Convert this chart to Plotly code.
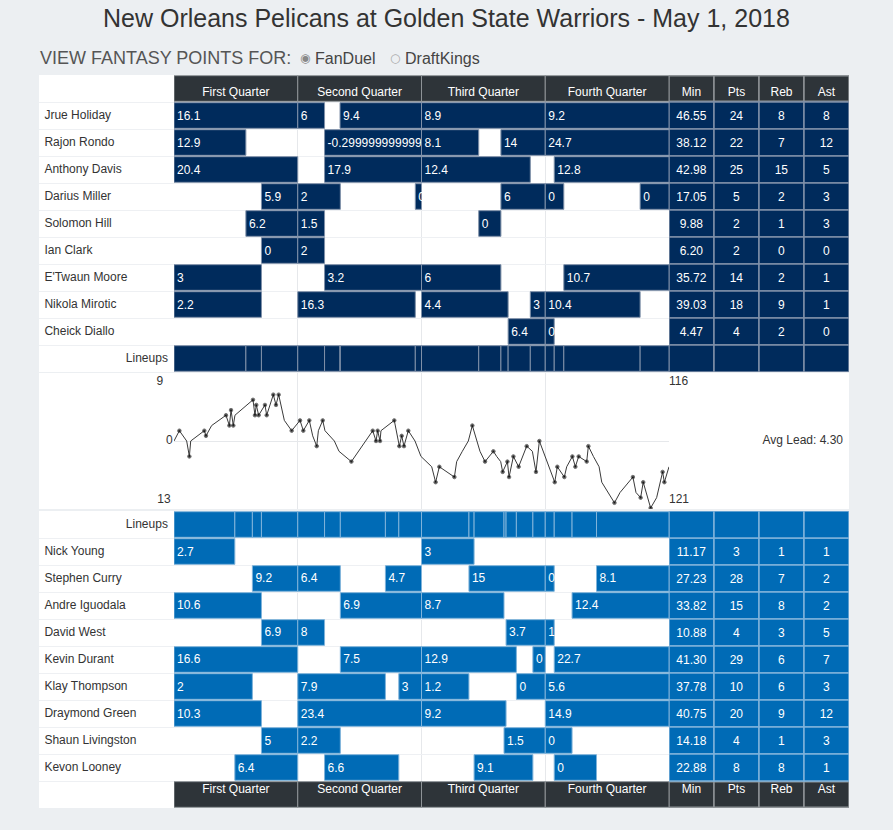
import plotly.graph_objects as go

W, H = 893, 830
FONT = "Liberation Sans, Arial, Helvetica, sans-serif"

# ---------------- data ----------------
title_text = "New Orleans Pelicans at Golden State Warriors - May 1, 2018"
quarter_names = ["First Quarter", "Second Quarter", "Third Quarter", "Fourth Quarter"]
stat_names = ["Min", "Pts", "Reb", "Ast"]
quarter_minutes = 12

nop_players = ["Jrue Holiday", "Rajon Rondo", "Anthony Davis", "Darius Miller", "Solomon Hill",
               "Ian Clark", "E'Twaun Moore", "Nikola Mirotic", "Cheick Diallo"]
nop_min = [46.55, 38.12, 42.98, 17.05, 9.88, 6.20, 35.72, 39.03, 4.47]
nop_pts = [24, 22, 25, 5, 2, 2, 14, 18, 4]
nop_reb = [8, 7, 15, 2, 1, 0, 2, 9, 2]
nop_ast = [8, 12, 5, 3, 3, 0, 1, 1, 0]

nop_stint_player = [0, 0, 0, 0, 0, 1, 1, 1, 1, 1, 2, 2, 2, 2, 3, 3, 3, 3, 3, 3,
                    4, 4, 4, 5, 5, 6, 6, 6, 6, 7, 7, 7, 7, 7, 8, 8]
nop_stint_start = [0, 12, 16.1, 24, 36, 0, 14.6, 24, 31.7, 36, 0, 14.6, 24, 36.87,
                   8.48, 12, 23.4, 31.7, 36, 45.2, 6.97, 12, 29.55, 8.48, 12,
                   0, 14.6, 24, 37.8, 0, 12, 24, 34.55, 36, 32.4, 36]
nop_stint_end = [12, 14.6, 24, 36, 48, 6.97, 24, 29.55, 36, 48, 12, 24, 34.55, 48,
                 12, 16.13, 24, 36, 37.8, 48, 12, 14.6, 31.7, 12, 14.6,
                 8.48, 24, 31.7, 48, 8.48, 23.4, 32.4, 36, 45.2, 36, 36.87]
nop_stint_fp = [16.1, 6, 9.4, 8.9, 9.2, 12.9, -0.29999999999999716, 8.1, 14, 24.7,
                20.4, 17.9, 12.4, 12.8, 5.9, 2, 0, 6, 0, 0, 6.2, 1.5, 0, 0, 2,
                3, 3.2, 6, 10.7, 2.2, 16.3, 4.4, 3, 10.4, 6.4, 0]

gsw_players = ["Nick Young", "Stephen Curry", "Andre Iguodala", "David West", "Kevin Durant",
               "Klay Thompson", "Draymond Green", "Shaun Livingston", "Kevon Looney"]
gsw_min = [11.17, 27.23, 33.82, 10.88, 41.30, 37.78, 40.75, 14.18, 22.88]
gsw_pts = [3, 28, 15, 4, 29, 10, 20, 4, 8]
gsw_reb = [1, 7, 8, 3, 6, 6, 9, 1, 8]
gsw_ast = [1, 2, 2, 5, 7, 3, 12, 3, 1]

gsw_stint_player = [0, 0, 1, 1, 1, 1, 1, 1, 2, 2, 2, 2, 3, 3, 3, 3, 4, 4, 4, 4, 4,
                    5, 5, 5, 5, 5, 5, 6, 6, 6, 6, 7, 7, 7, 7, 8, 8, 8, 8]
gsw_stint_start = [0, 24, 7.6, 12, 20.5, 28.6, 36, 40.97, 0, 16.13, 24, 38.6,
                   8.48, 12, 32.2, 36, 0, 16.13, 24, 34.8, 36.87,
                   0, 12, 21.8, 24, 33.2, 36, 0, 12, 24, 36, 8.48, 12, 32.0, 36,
                   5.9, 14.6, 29.1, 36.87]
gsw_stint_end = [5.9, 29.1, 12, 16.13, 24, 36, 36.87, 48, 8.48, 24, 32.0, 48,
                 12, 14.6, 36, 36.87, 12, 24, 33.2, 36, 48,
                 7.6, 20.5, 24, 28.6, 36, 48, 8.48, 24, 32.2, 48, 12, 16.13, 36, 38.6,
                 12, 21.8, 34.8, 40.97]
gsw_stint_fp = [2.7, 3, 9.2, 6.4, 4.7, 15, 0, 8.1, 10.6, 6.9, 8.7, 12.4,
                6.9, 8, 3.7, 1, 16.6, 7.5, 12.9, 0, 22.7,
                2, 7.9, 3, 1.2, 0, 5.6, 10.3, 23.4, 9.2, 14.9, 5, 2.2, 1.5, 0,
                6.4, 6.6, 9.1, 0]

lead_minute = [0, 0.52, 1.23, 1.49, 1.62, 2.94, 3.10, 3.65, 5.04, 5.37, 5.53, 5.75, 5.91,
               7.66, 7.85, 7.98, 8.21, 8.82, 8.99, 9.63, 9.89, 10.15, 10.70, 11.41,
               12.22, 12.54, 13.12, 13.45, 13.84, 14.00, 14.42, 14.64, 15.55, 16.0, 17.2,
               19.27, 19.59, 19.75, 19.98, 20.07, 21.36, 21.85, 22.08, 22.3, 22.72, 23.37,
               23.95, 24.99, 25.37, 25.73, 27.19, 27.41, 27.96, 28.54, 28.93, 29.35, 29.67,
               30.16, 30.97, 31.29, 31.68, 31.87, 32.33, 32.49, 32.91, 33.42, 34.2, 34.75,
               35.10, 35.43, 36.92, 37.17, 37.85, 38.08, 38.63, 38.92, 39.24, 40.02, 40.18,
               40.67, 41.22, 41.48, 42.71, 43.25, 44.5, 44.8, 45.25, 45.5, 46.22, 46.8,
               47.38, 47.55, 48]
lead_value = [0, 2, 0, -3, 0, 2, 1, 3, 5, 3, 6, 3, 5,
              8, 5, 7, 5, 7, 5, 9, 7, 9, 4, 2,
              4, 2, 4, 1, -1, 2, 4, 2, 0, -2, -4,
              2, 0, 2, 0, 2, 4, -1, 1, -1, 2, 0,
              -3, -5, -8, -5, -7, -4, -2, 0, 3, 0, -2,
              -4, -2, -3, -4, -6, -4, -7, -3, -5, -1, -2,
              -6, 0, -8, -5, -7, -5, -3, -5, -3, -4, -1,
              -3, -5, -8, -12, -10, -7, -10, -11, -8, -13, -11,
              -6, -8, -5]
lead_marked = [0, 1, 0, 1, 0, 1, 1, 0, 1, 1, 1, 1, 0,
               1, 1, 1, 1, 1, 1, 1, 1, 1, 0, 1,
               1, 1, 1, 0, 1, 0, 1, 0, 0, 0, 1,
               1, 1, 1, 1, 0, 1, 1, 1, 1, 1, 0,
               0, 0, 1, 1, 1, 0, 0, 0, 1, 0, 0,
               1, 1, 0, 0, 1, 1, 1, 1, 1, 1, 0,
               1, 1, 1, 1, 1, 0, 1, 1, 1, 1, 1,
               0, 0, 0, 1, 0, 1, 0, 1, 1, 1, 0,
               1, 1, 0]

nop_final_score = 116
gsw_final_score = 121
nop_max_lead = 9
gsw_max_lead = 13
avg_lead = 4.30

# ---------------- styling ----------------
PAGE_BG = "#eceff2"
HEADER = "#2e3439"
HEADER_EDGE = "#8e9397"
NOP_FILL, NOP_EDGE = "#002b5c", "#7f90a8"
GSW_FILL, GSW_EDGE = "#006bb6", "#7fb3da"
GRID = "#eef0f3"


def xd(a, b):
    return [a / W, b / W]


def yd(top, bottom):
    return [1 - bottom / H, 1 - top / H]


def fmt(v):
    return str(v)


fig = go.Figure()


def add_team(players, sp, ss, se, sf, mins, pts, reb, ast, fill, edge,
             xq, xs, xn, ya, row0, lineup_row, header_row, shift):
    rows = [row0 + i for i in range(len(players))]
    qb = [i * quarter_minutes for i in range(len(quarter_names))]
    # header cells
    fig.add_trace(go.Bar(orientation="h", base=qb, x=[quarter_minutes] * len(qb),
                         y=[header_row] * len(qb), width=0.95,
                         marker=dict(color=HEADER, line=dict(color=HEADER_EDGE, width=1)),
                         xaxis=xq, yaxis=ya, hoverinfo="skip"))
    fig.add_trace(go.Scatter(mode="text", x=[b + quarter_minutes / 2 for b in qb],
                             y=[header_row + shift] * len(qb), text=quarter_names,
                             textfont=dict(color="white", size=12, family=FONT),
                             xaxis=xq, yaxis=ya, hoverinfo="skip"))
    sb = list(range(len(stat_names)))
    fig.add_trace(go.Bar(orientation="h", base=sb, x=[1] * len(sb), y=[header_row] * len(sb),
                         width=0.95,
                         marker=dict(color=HEADER, line=dict(color=HEADER_EDGE, width=1.5)),
                         xaxis=xs, yaxis=ya, hoverinfo="skip"))
    fig.add_trace(go.Scatter(mode="text", x=[b + 0.5 for b in sb],
                             y=[header_row + shift] * len(sb), text=stat_names,
                             textfont=dict(color="white", size=12, family=FONT),
                             xaxis=xs, yaxis=ya, hoverinfo="skip"))
    # stints
    fig.add_trace(go.Bar(orientation="h", base=ss, x=[e - s for s, e in zip(ss, se)],
                         y=[rows[p] for p in sp], width=0.95,
                         text=[fmt(v) for v in sf], textposition="inside",
                         insidetextanchor="start", constraintext="none",
                         textfont=dict(color="white", size=12, family=FONT),
                         marker=dict(color=fill, line=dict(color=edge, width=1)),
                         xaxis=xq, yaxis=ya, hoverinfo="skip"))
    # lineups (every substitution time starts a new lineup)
    changes = sorted(set(ss) | set(se))
    fig.add_trace(go.Bar(orientation="h", base=changes[:-1],
                         x=[b - a for a, b in zip(changes[:-1], changes[1:])],
                         y=[lineup_row] * (len(changes) - 1), width=0.95,
                         marker=dict(color=fill, line=dict(color=edge, width=1)),
                         xaxis=xq, yaxis=ya, hoverinfo="skip"))
    # stat cells
    cb, cy, ct = [], [], []
    cols = [[f"{m:.2f}" for m in mins], [str(v) for v in pts], [str(v) for v in reb],
            [str(v) for v in ast]]
    for ci, col in enumerate(cols):
        for ri, val in enumerate(col):
            cb.append(ci); cy.append(rows[ri]); ct.append(val)
        cb.append(ci); cy.append(lineup_row); ct.append("")
    fig.add_trace(go.Bar(orientation="h", base=cb, x=[1] * len(cb), y=cy, width=1.0,
                         text=ct, textposition="inside", insidetextanchor="middle",
                         constraintext="none",
                         textfont=dict(color="white", size=12, family=FONT),
                         marker=dict(color=fill, line=dict(color=edge, width=1.5)),
                         xaxis=xs, yaxis=ya, hoverinfo="skip"))
    # names
    fig.add_trace(go.Scatter(mode="text", x=[0.04] * len(players), y=rows, text=players,
                             textposition="middle right",
                             textfont=dict(color="#333333", size=12, family=FONT),
                             xaxis=xn, yaxis=ya, hoverinfo="skip"))
    fig.add_trace(go.Scatter(mode="text", x=[0.955], y=[lineup_row], text=["Lineups"],
                             textposition="middle left",
                             textfont=dict(color="#333333", size=12, family=FONT),
                             xaxis=xn, yaxis=ya, hoverinfo="skip"))


add_team(nop_players, nop_stint_player, nop_stint_start, nop_stint_end, nop_stint_fp,
         nop_min, nop_pts, nop_reb, nop_ast, NOP_FILL, NOP_EDGE,
         "x", "x2", "x3", "y", 0, len(nop_players), -1, 0.18)
add_team(gsw_players, gsw_stint_player, gsw_stint_start, gsw_stint_end, gsw_stint_fp,
         gsw_min, gsw_pts, gsw_reb, gsw_ast, GSW_FILL, GSW_EDGE,
         "x7", "x8", "x9", "y3", 1, 0, len(gsw_players) + 1, -0.15)

# lead chart
fig.add_trace(go.Scatter(mode="lines+markers", x=lead_minute, y=lead_value,
                         line=dict(color="#3a3a3a", width=1),
                         marker=dict(color="#000000",
                                     size=[3.5 if m else 0 for m in lead_marked]),
                         xaxis="x4", yaxis="y2", hoverinfo="skip"))
LR = 13.2
lab_y = LR * 0.868
fig.add_trace(go.Scatter(mode="text", x=[0.92, 0.99, 0.975], y=[lab_y, 0, -lab_y],
                         text=[str(nop_max_lead), "0", str(gsw_max_lead)],
                         textposition="middle left",
                         textfont=dict(color="#333333", size=12, family=FONT),
                         xaxis="x6", yaxis="y4", hoverinfo="skip"))
fig.add_trace(go.Scatter(mode="text", x=[0, 0], y=[lab_y, -lab_y],
                         text=[str(nop_final_score), str(gsw_final_score)],
                         textposition="middle right",
                         textfont=dict(color="#333333", size=12, family=FONT),
                         xaxis="x5", yaxis="y4", hoverinfo="skip"))
fig.add_trace(go.Scatter(mode="text", x=[0.967], y=[0], text=[f"Avg Lead: {avg_lead:.2f}"],
                         textposition="middle left",
                         textfont=dict(color="#333333", size=12, family=FONT),
                         xaxis="x5", yaxis="y4", hoverinfo="skip"))

hidden = dict(showticklabels=False, ticks="", zeroline=False, showline=False, fixedrange=True)
half_rows_nop = [i - 0.5 for i in range(-1, len(nop_players) + 1)]
half_rows_gsw = [i - 0.5 for i in range(0, len(gsw_players) + 2)]
qgrid = [quarter_minutes * i for i in range(1, len(quarter_names))]

fig.update_layout(
    width=W, height=H, margin=dict(l=0, r=0, t=0, b=0),
    paper_bgcolor=PAGE_BG, plot_bgcolor="white", showlegend=False, barmode="overlay",
    font=dict(family=FONT, color="#333333"),
    xaxis=dict(domain=xd(174, 669), range=[0, 48], anchor="y", tickvals=qgrid,
               showgrid=True, gridcolor="#e6e8eb", **hidden),
    xaxis2=dict(domain=xd(669, 849), range=[0, 4], anchor="y", showgrid=False, **hidden),
    xaxis3=dict(domain=xd(39, 174), range=[0, 1], anchor="y", showgrid=False, **hidden),
    yaxis=dict(domain=yd(75, 372), range=[len(nop_players) + 0.5, -1.5], anchor="x",
               tickvals=half_rows_nop, showgrid=True, gridcolor=GRID, **hidden),
    xaxis4=dict(domain=xd(174, 669), range=[0, 48], anchor="y2", tickvals=qgrid,
                showgrid=True, gridcolor="#e6e8eb", **hidden),
    yaxis2=dict(domain=yd(373, 509), range=[-LR, LR], anchor="x4", showgrid=False,
                showticklabels=False, ticks="", showline=False, fixedrange=True,
                zeroline=True, zerolinecolor="#e6e8eb", zerolinewidth=1),
    xaxis5=dict(domain=xd(669, 849), range=[0, 1], anchor="y4", showgrid=False, **hidden),
    xaxis6=dict(domain=xd(39, 174), range=[0, 1], anchor="y4", showgrid=False, **hidden),
    yaxis4=dict(domain=yd(373, 509), range=[-LR, LR], anchor="x5", showgrid=False, **hidden),
    xaxis7=dict(domain=xd(174, 669), range=[0, 48], anchor="y3", tickvals=qgrid,
                showgrid=True, gridcolor="#e6e8eb", **hidden),
    xaxis8=dict(domain=xd(669, 849), range=[0, 4], anchor="y3", showgrid=False, **hidden),
    xaxis9=dict(domain=xd(39, 174), range=[0, 1], anchor="y3", showgrid=False, **hidden),
    yaxis3=dict(domain=yd(511, 808), range=[len(gsw_players) + 1.5, -0.5], anchor="x7",
                tickvals=half_rows_gsw, showgrid=True, gridcolor=GRID, **hidden),
)

annotations = [
    dict(text=title_text, x=0.5, y=1 - 18 / H, xref="paper", yref="paper",
         xanchor="center", yanchor="middle", showarrow=False,
         font=dict(size=25, color="#333333", family=FONT)),
    dict(text="VIEW FANTASY POINTS FOR:", x=38 / W, y=1 - 58 / H, xref="paper", yref="paper",
         xanchor="left", yanchor="middle", showarrow=False,
         font=dict(size=18, color="#555555", family=FONT)),
    dict(text="◉", x=298 / W, y=1 - 58 / H, xref="paper", yref="paper",
         xanchor="left", yanchor="middle", showarrow=False,
         font=dict(size=12, color="#888888", family="DejaVu Sans")),
    dict(text="FanDuel", x=313 / W, y=1 - 58 / H, xref="paper", yref="paper",
         xanchor="left", yanchor="middle", showarrow=False,
         font=dict(size=16, color="#444444", family=FONT)),
    dict(text="○", x=388 / W, y=1 - 58 / H, xref="paper", yref="paper",
         xanchor="left", yanchor="middle", showarrow=False,
         font=dict(size=12, color="#aaaaaa", family="DejaVu Sans")),
    dict(text="DraftKings", x=403 / W, y=1 - 58 / H, xref="paper", yref="paper",
         xanchor="left", yanchor="middle", showarrow=False,
         font=dict(size=16, color="#444444", family=FONT)),
]
fig.update_layout(annotations=annotations)

fig.write_html(
    "out.html",
    config={"displayModeBar": False},
    post_script="document.body.style.margin='0px';document.body.style.background='#eceff2';",
)
